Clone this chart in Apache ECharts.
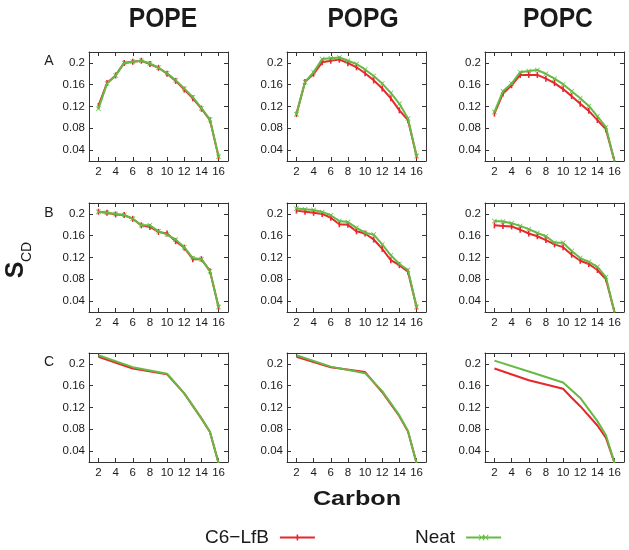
<!DOCTYPE html>
<html>
<head>
<meta charset="utf-8">
<script src="https://cdn.jsdelivr.net/npm/echarts@6/dist/echarts.min.js"></script>
<style>html,body{margin:0;padding:0;background:#fff}#main{width:629px;height:550px}</style>
</head>
<body>
<div id="main"></div>
<script>
// ---- data ----
const lipids = ['POPE', 'POPG', 'POPC'];
const rowLabels = ['A', 'B', 'C'];
const seriesNames = ['C6\u2212LfB', 'Neat'];
const xTicks = [2, 4, 6, 8, 10, 12, 14, 16];
const yTicks = [0.04, 0.08, 0.12, 0.16, 0.2];

const carbons = [2, 3, 4, 5, 6, 7, 8, 9, 10, 11, 12, 13, 14, 15, 16];
const carbonsC = [2, 6, 10, 12, 14, 15, 16];
const carbonsCpopcLfb = [2, 6, 10, 11, 12, 14, 15, 16];

// Row A
const popeA_lfb  = [0.121, 0.163, 0.177, 0.200, 0.202, 0.204, 0.198, 0.191, 0.180, 0.167, 0.151, 0.135, 0.116, 0.095, 0.028];
const popeA_neat = [0.116, 0.162, 0.177, 0.200, 0.202, 0.204, 0.199, 0.191, 0.181, 0.168, 0.153, 0.137, 0.117, 0.096, 0.028];
const popgA_lfb  = [0.106, 0.165, 0.180, 0.201, 0.204, 0.206, 0.1995, 0.192, 0.181, 0.168, 0.153, 0.135, 0.113, 0.095, 0.029];
const popgA_neat = [0.106, 0.165, 0.183, 0.207, 0.2085, 0.210, 0.204, 0.198, 0.188, 0.176, 0.162, 0.145, 0.125, 0.098, 0.029];
const popcA_lfb  = [0.107, 0.144, 0.159, 0.178, 0.178, 0.178, 0.171, 0.163, 0.152, 0.139, 0.125, 0.112, 0.095, 0.078, 0.019];
const popcA_neat = [0.110, 0.148, 0.162, 0.183, 0.185, 0.187, 0.180, 0.171, 0.161, 0.148, 0.135, 0.121, 0.102, 0.082, 0.019];

// Row B
const popeB_lfb  = [0.204, 0.202, 0.199, 0.198, 0.191, 0.179, 0.176, 0.167, 0.164, 0.150, 0.138, 0.117, 0.117, 0.095, 0.029];
const popeB_neat = [0.204, 0.202, 0.200, 0.198, 0.191, 0.179, 0.179, 0.168, 0.162, 0.153, 0.139, 0.119, 0.117, 0.095, 0.029];
const popgB_lfb  = [0.206, 0.204, 0.202, 0.200, 0.193, 0.181, 0.180, 0.168, 0.164, 0.153, 0.136, 0.115, 0.106, 0.094, 0.029];
const popgB_neat = [0.210, 0.2085, 0.207, 0.2036, 0.1976, 0.187, 0.185, 0.1745, 0.1655, 0.162, 0.144, 0.124, 0.108, 0.097, 0.029];
const popcB_lfb  = [0.179, 0.178, 0.177, 0.171, 0.164, 0.159, 0.152, 0.144, 0.139, 0.125, 0.114, 0.108, 0.097, 0.080, 0.019];
const popcB_neat = [0.187, 0.186, 0.183, 0.178, 0.172, 0.165, 0.159, 0.147, 0.147, 0.132, 0.119, 0.112, 0.103, 0.084, 0.019];

// Row C
const popeC_lfb  = [0.213, 0.1915, 0.181, 0.146, 0.100, 0.075, 0.018];
const popeC_neat = [0.2158, 0.194, 0.182, 0.146, 0.100, 0.075, 0.018];
const popgC_lfb  = [0.213, 0.194, 0.185, 0.148, 0.104, 0.076, 0.018];
const popgC_neat = [0.2158, 0.195, 0.183, 0.150, 0.1055, 0.077, 0.018];
const popcC_lfb  = [0.1915, 0.170, 0.1545, 0.138, 0.1224, 0.087, 0.064, 0.018];
const popcC_neat = [0.206, 0.186, 0.166, 0.1376, 0.095, 0.069, 0.018];

// ---- layout / style ----
const RED = '#e8262b', GREEN = '#66b944', TXT = '#1a1a1a', AX = '#333';
const FONT = 'Liberation Sans, Arial, sans-serif';
const colLeft = [89, 287, 485], rowTop = [52, 203, 353], W = 139, H = 109;

const zip = (xs, ys) => xs.map((x, i) => [x, ys[i]]);
const panels = [
  [[carbons, popeA_lfb, carbons, popeA_neat], [carbons, popgA_lfb, carbons, popgA_neat], [carbons, popcA_lfb, carbons, popcA_neat]],
  [[carbons, popeB_lfb, carbons, popeB_neat], [carbons, popgB_lfb, carbons, popgB_neat], [carbons, popcB_lfb, carbons, popcB_neat]],
  [[carbonsC, popeC_lfb, carbonsC, popeC_neat], [carbonsC, popgC_lfb, carbonsC, popgC_neat], [carbonsCpopcLfb, popcC_lfb, carbonsC, popcC_neat]]
];

const grids = [], xAxes = [], yAxes = [], series = [];
const xSym = 'path://M0,1L1,0L5,4L9,0L10,1L6,5L10,9L9,10L5,6L1,10L0,9L4,5Z';
// legend icons: line with a marker in the middle (35 x 6)
const redIcon = 'path://M0,2L16.7,2L16.7,0L18.3,0L18.3,2L35,2L35,4L18.3,4L18.3,6L16.7,6L16.7,4L0,4Z';
const greenIcon = 'path://M0,2L35,2L35,4L0,4Z M12.5,0.6L13.1,0L15.5,2.4L17.9,0L18.5,0.6L16.1,3L18.5,5.4L17.9,6L15.5,3.6L13.1,6L12.5,5.4L14.9,3Z M16.5,0.6L17.1,0L19.5,2.4L21.9,0L22.5,0.6L20.1,3L22.5,5.4L21.9,6L19.5,3.6L17.1,6L16.5,5.4L18.9,3Z';
let g = 0;
for (let r = 0; r < 3; r++) {
  for (let c = 0; c < 3; c++) {
    grids.push({ left: colLeft[c], top: rowTop[r], width: W, height: H, containLabel: false });
    const common = {
      type: 'value', gridIndex: g, splitLine: { show: false },
      axisLine: { show: true, onZero: false, lineStyle: { color: AX, width: 1 } }
    };
    xAxes.push(Object.assign({}, common, {
      position: 'bottom', min: 0.9, max: 17.1,
      axisTick: { show: true, inside: true, length: 4, customValues: xTicks, lineStyle: { color: AX } },
      axisLabel: { customValues: xTicks, fontSize: 11.5, color: TXT, margin: 5, fontFamily: FONT }
    }));
    xAxes.push(Object.assign({}, common, {
      position: 'top', min: 0.9, max: 17.1,
      axisTick: { show: true, inside: true, length: 4, customValues: xTicks, lineStyle: { color: AX } },
      axisLabel: { show: false }
    }));
    yAxes.push(Object.assign({}, common, {
      position: 'left', min: 0.02, max: 0.22,
      axisTick: { show: true, inside: true, length: 4, customValues: yTicks, lineStyle: { color: AX } },
      axisLabel: { customValues: yTicks, fontSize: 11.5, color: TXT, margin: 4, fontFamily: FONT,
        formatter: v => String(+(+v).toFixed(2)) }
    }));
    yAxes.push(Object.assign({}, common, {
      position: 'right', min: 0.02, max: 0.22,
      axisTick: { show: true, inside: true, length: 4, customValues: yTicks, lineStyle: { color: AX } },
      axisLabel: { show: false }
    }));
    const p = panels[r][c];
    const showSym = r < 2;
    series.push({
      name: seriesNames[0], type: 'line', xAxisIndex: 2 * g, yAxisIndex: 2 * g,
      data: zip(p[0], p[1]), showSymbol: showSym, symbol: 'rect', symbolSize: [1.6, 6],
      lineStyle: { color: RED, width: 2 }, itemStyle: { color: RED }, clip: true, silent: true, z: 2
    });
    series.push({
      name: seriesNames[1], type: 'line', xAxisIndex: 2 * g, yAxisIndex: 2 * g,
      data: zip(p[2], p[3]), showSymbol: showSym, symbol: xSym, symbolSize: 5,
      lineStyle: { color: GREEN, width: 2 }, itemStyle: { color: GREEN }, clip: true, silent: true, z: 3
    });
    g++;
  }
}

const graphics = [];
const titleX = [163, 363, 558];
lipids.forEach((t, i) => graphics.push({
  type: 'text', x: titleX[i], y: 19, scaleX: 0.88,
  style: { text: t, fontSize: 28, fontWeight: 'bold', fontFamily: FONT, fill: TXT, align: 'center', verticalAlign: 'middle' }
}));
const letterY = [61, 213, 362];
rowLabels.forEach((t, i) => graphics.push({
  type: 'text', x: 49, y: letterY[i],
  style: { text: t, fontSize: 14, fontFamily: FONT, fill: TXT, align: 'center', verticalAlign: 'middle' }
}));
graphics.push({
  type: 'text', x: 16, y: 270, rotation: Math.PI / 2,
  style: { text: 'S', fontSize: 25, fontWeight: 'bold', fontFamily: FONT, fill: TXT, align: 'center', verticalAlign: 'middle' }
});
graphics.push({
  type: 'text', x: 27, y: 252, rotation: Math.PI / 2,
  style: { text: 'CD', fontSize: 14, fontFamily: FONT, fill: TXT, align: 'center', verticalAlign: 'middle' }
});
graphics.push({
  type: 'text', x: 357, y: 499, scaleX: 1.2,
  style: { text: 'Carbon', fontSize: 21, fontWeight: 'bold', fontFamily: FONT, fill: TXT, align: 'center', verticalAlign: 'middle' }
});

const legendCommon = {
  top: 528, padding: 0, align: 'right', itemWidth: 35, itemHeight: 6, selectedMode: false,
  textStyle: { fontSize: 19, color: TXT, fontFamily: FONT, padding: [0, 6, 0, 0] }
};

const chart = echarts.init(document.getElementById('main'));
chart.setOption({
  animation: false,
  backgroundColor: '#fff',
  grid: grids,
  xAxis: xAxes,
  yAxis: yAxes,
  legend: [
    Object.assign({ left: 205, data: [{ name: seriesNames[0], icon: redIcon }] }, legendCommon),
    Object.assign({ left: 415, data: [{ name: seriesNames[1], icon: greenIcon }] }, legendCommon)
  ],
  graphic: graphics,
  series: series
});
</script>
</body>
</html>
